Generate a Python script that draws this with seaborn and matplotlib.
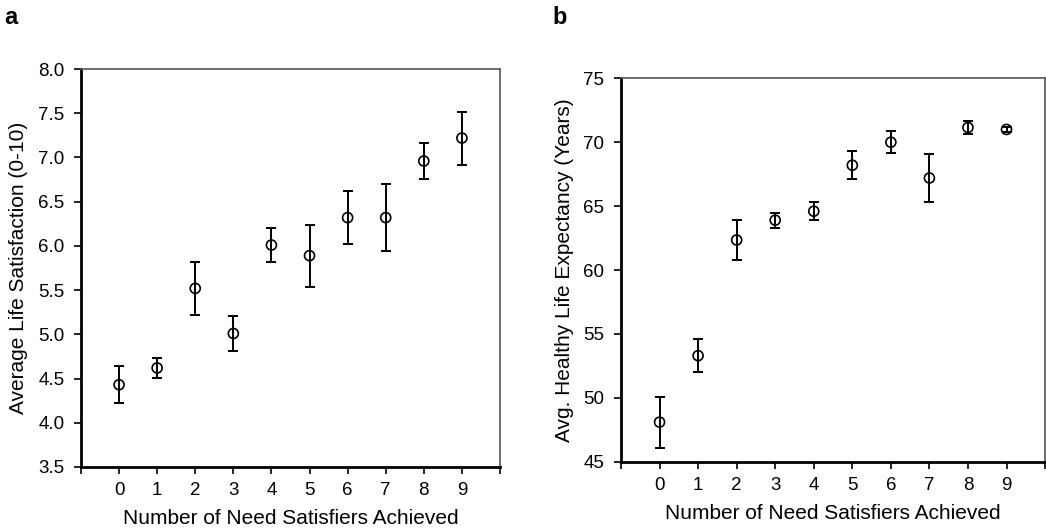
import matplotlib
matplotlib.use('Agg')
import matplotlib.pyplot as plt
from matplotlib.ticker import FormatStrFormatter, FixedLocator, FixedFormatter
import numpy as np
import pandas as pd
import seaborn as sns

sns.set_style('ticks')
plt.rcParams['font.family'] = ['Liberation Sans', 'DejaVu Sans']
plt.rcParams['text.color'] = 'black'
plt.rcParams['axes.labelcolor'] = 'black'

# data
satisfiers = [0, 1, 2, 3, 4, 5, 6, 7, 8, 9]
life_sat = [4.43, 4.62, 5.52, 5.01, 6.01, 5.89, 6.32, 6.32, 6.96, 7.22]
life_sat_err = [0.21, 0.11, 0.30, 0.20, 0.19, 0.35, 0.30, 0.38, 0.20, 0.30]
hle = [48.1, 53.3, 62.35, 63.9, 64.6, 68.2, 70.0, 67.2, 71.15, 71.0]
hle_err = [2.0, 1.3, 1.6, 0.6, 0.7, 1.1, 0.85, 1.9, 0.5, 0.2]

df = pd.DataFrame({'n': satisfiers, 'sat': life_sat, 'sat_err': life_sat_err,
                   'hle': hle, 'hle_err': hle_err})

fig = plt.figure(figsize=(10.46, 5.32), dpi=100)
ax_a = fig.add_axes([0.0774, 0.1222, 0.4006, 0.748])
ax_b = fig.add_axes([0.5937, 0.1321, 0.4054, 0.7207])


def draw_panel(ax, ycol, ecol, ylim, ystep, ylabel, fmt):
    ax.errorbar(df['n'], df[ycol], yerr=df[ecol], fmt='none', ecolor='black',
                elinewidth=1.4, capsize=3.3, capthick=1.4, zorder=2)
    sns.scatterplot(data=df, x='n', y=ycol, ax=ax, marker='o', s=52,
                    facecolor='none', edgecolor='black', linewidth=1.2, zorder=3)
    ax.set_xlim(-1, 10)
    ax.set_ylim(*ylim)
    ax.xaxis.set_major_locator(FixedLocator(list(range(-1, 11))))
    ax.xaxis.set_major_formatter(FixedFormatter([''] + [str(v) for v in satisfiers] + ['']))
    ax.set_yticks(np.arange(ylim[0], ylim[1] + ystep / 2, ystep))
    ax.yaxis.set_major_formatter(FormatStrFormatter(fmt))
    ax.tick_params(axis='both', direction='out', length=5, width=1.2,
                   labelsize=13.5, colors='black')
    ax.tick_params(axis='y', pad=7)
    ax.tick_params(axis='x', pad=6)
    ax.set_xlabel('Number of Need Satisfiers Achieved', fontsize=15, labelpad=7)
    ax.set_ylabel(ylabel, fontsize=15, labelpad=7)
    for side in ['left', 'bottom']:
        ax.spines[side].set_linewidth(2)
        ax.spines[side].set_color('black')
    for side in ['top', 'right']:
        ax.spines[side].set_linewidth(1.2)
        ax.spines[side].set_color('#555555')


draw_panel(ax_a, 'sat', 'sat_err', (3.5, 8.0), 0.5,
           'Average Life Satisfaction (0-10)', '%.1f')
draw_panel(ax_b, 'hle', 'hle_err', (45, 75), 5,
           'Avg. Healthy Life Expectancy (Years)', '%d')

fig.text(0.004, 0.968, 'a', fontsize=17, fontweight='bold', va='center', ha='left')
fig.text(0.528, 0.968, 'b', fontsize=17, fontweight='bold', va='center', ha='left')

plt.savefig('out.png', dpi=100)
plt.close()
